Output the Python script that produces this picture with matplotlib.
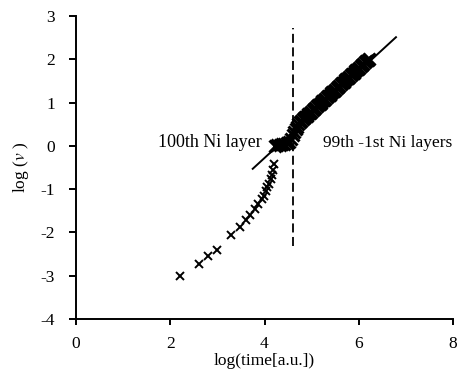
import matplotlib
matplotlib.use("Agg")
import matplotlib.pyplot as plt

plt.rcParams['font.family'] = ['Liberation Serif', 'DejaVu Serif']
plt.rcParams['mathtext.fontset'] = 'stix'
plt.rcParams['axes.unicode_minus'] = False

# 100th Ni layer (early stage) points
early_x = [2.21, 2.61, 2.81, 3.00, 3.29, 3.48, 3.61, 3.69, 3.80, 3.87, 3.94, 3.99,
           4.03, 4.06, 4.10, 4.13, 4.16, 4.18, 4.20]
early_y = [-3.00, -2.72, -2.55, -2.41, -2.07, -1.87, -1.72, -1.59, -1.46, -1.35, -1.23, -1.15,
           -1.05, -0.96, -0.87, -0.77, -0.67, -0.55, -0.43]

# 99th - 1st Ni layers points
late_x = [4.22, 4.27, 4.32, 4.37, 4.42, 4.47, 4.52, 4.56, 4.60, 4.63, 4.66, 4.69,
          4.72, 4.75, 4.78, 4.81, 4.84, 4.87, 4.90, 4.93, 4.96, 4.99, 5.02, 5.05,
          5.08, 5.11, 5.14, 5.17, 5.20, 5.23, 5.26, 5.29, 5.32, 5.35, 5.38, 5.41,
          5.44, 5.47, 5.50, 5.53, 5.56, 5.59, 5.62, 5.65, 5.68, 5.71, 5.74, 5.77,
          5.80, 5.83, 5.86, 5.89, 5.92, 5.95, 5.98, 6.01, 6.04, 6.07, 6.10, 6.13,
          6.16, 6.19, 6.21]
late_y = [0.00, 0.02, 0.03, 0.04, 0.05, 0.06, 0.09, 0.15, 0.26, 0.32, 0.40, 0.44,
          0.50, 0.55, 0.58, 0.61, 0.64, 0.67, 0.70, 0.73, 0.76, 0.79, 0.82, 0.85,
          0.88, 0.91, 0.94, 0.97, 1.00, 1.03, 1.06, 1.09, 1.12, 1.15, 1.18, 1.21,
          1.24, 1.27, 1.30, 1.33, 1.36, 1.39, 1.42, 1.45, 1.48, 1.51, 1.54, 1.57,
          1.60, 1.63, 1.66, 1.69, 1.72, 1.75, 1.78, 1.81, 1.84, 1.87, 1.90, 1.93,
          1.96, 1.98, 2.00]

# linear fit line
fit_x = [3.75, 6.79]
fit_y = [-0.53, 2.51]

# boundary (dashed)
boundary_x = 4.60
boundary_y = [-2.31, 2.72]

xticks = [0, 2, 4, 6, 8]
yticks = [-4, -3, -2, -1, 0, 1, 2, 3]

fig = plt.figure(figsize=(4.59, 3.82), dpi=100)
ax = fig.add_axes([76/459, 1-319/382, (453-76)/459, (319-16)/382])

ax.plot(early_x, early_y, linestyle='none', marker='x', color='black',
        markersize=6, markeredgewidth=1.4, clip_on=False)
ax.plot(late_x, late_y, linestyle='none', marker='x', color='black',
        markersize=8.5, markeredgewidth=2.2, clip_on=False)
ax.plot(fit_x, fit_y, color='black', linewidth=1.4)
ax.plot([boundary_x, boundary_x], boundary_y, color='black', linewidth=1.3,
        linestyle=(0, (5, 2.5)))

fs = 12.5
ax.text(3.95, 0.07, '100th Ni layer', fontsize=13, ha='right', va='center')
ax.text(5.25, 0.07, '99th -1st Ni layers', fontsize=fs, ha='left', va='center')

ax.set_xlim(0, 8)
ax.set_ylim(-4, 3)
ax.set_xticks(xticks)
ax.set_yticks(yticks)
ax.spines['top'].set_visible(False)
ax.spines['right'].set_visible(False)
ax.spines['left'].set_linewidth(1.4)
ax.spines['bottom'].set_linewidth(1.4)
ax.tick_params(axis='x', direction='out', length=4, width=1.4, labelsize=fs, pad=8)
ax.tick_params(axis='y', direction='out', length=5, width=1.4, labelsize=fs, pad=10)
ax.set_xlabel('log(time[a.u.])', fontsize=fs, labelpad=1)
ax.set_ylabel(r'log ($v$ )', fontsize=fs, labelpad=7)

fig.savefig('out.png', dpi=100)
